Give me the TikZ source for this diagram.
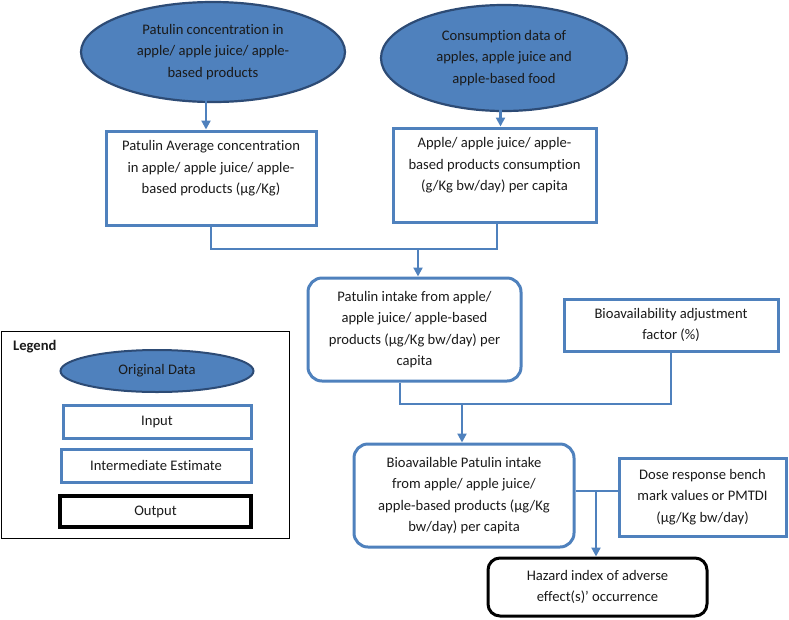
\documentclass[tikz,border=0pt]{standalone}
\usepackage{fontspec}
\setmainfont{Carlito}[Ligatures=NoCommon]
\usetikzlibrary{shapes.geometric,arrows.meta}
\definecolor{blu}{HTML}{4F81BD}
\definecolor{ebord}{HTML}{2D4B75}
\definecolor{txt}{HTML}{1A1A1A}
\begin{document}
\begin{tikzpicture}[x=1pt,y=-1pt,
  font=\fontsize{14.6}{21.5}\selectfont, text=txt,
  orig/.style={ellipse, draw=ebord, line width=2.2pt, fill=blu, inner sep=0pt, align=center},
  inputbox/.style={rectangle, draw=blu, line width=3pt, align=center, inner sep=0pt},
  interbox/.style={rectangle, rounded corners=14pt, draw=blu, line width=3pt, align=center, inner sep=0pt},
  outbox/.style={rectangle, rounded corners=12pt, draw=black, line width=3pt, align=center, inner sep=0pt},
  legbox/.style={rectangle, draw=black, line width=0.8pt, inner sep=0pt},
  conn/.style={draw=blu, line width=2.2pt},
  arr/.style={conn, -{Triangle[length=9pt,width=9pt]}}]
\useasboundingbox (0,0) rectangle (789,619);

% main flow
\node[orig, minimum width=264pt, minimum height=100pt] (e1) at (213,52)
  {Patulin concentration in\\apple/ apple juice/ apple-\\based products};
\node[orig, minimum width=246pt, minimum height=106pt] (e2) at (504,58)
  {Consumption data of\\apples, apple juice and\\apple-based food};
\node[inputbox, minimum width=210pt, minimum height=94pt] (b1) at (211,178)
  {Patulin Average concentration\\in apple/ apple juice/ apple-\\based products (µg/Kg)\\\mbox{}};
\node[inputbox, minimum width=203pt, minimum height=94pt] (b2) at (494.5,175)
  {Apple/ apple juice/ apple-\\based products consumption\\(g/Kg bw/day) per capita\\\mbox{}};
\node[interbox, minimum width=213pt, minimum height=103pt] (b3) at (414.5,329.5)
  {Patulin intake from apple/\\apple juice/ apple-based\\products (µg/Kg bw/day) per\\capita};
\node[inputbox, minimum width=214pt, minimum height=52pt] (b4) at (671,325)
  {Bioavailability adjustment\\factor (\%)};
\node[interbox, minimum width=220pt, minimum height=103pt] (b5) at (464,495.5)
  {Bioavailable Patulin intake\\from apple/ apple juice/\\apple-based products (µg/Kg\\bw/day) per capita};
\node[inputbox, minimum width=167pt, minimum height=78pt] (b6) at (702.5,497)
  {Dose response bench\\mark values or PMTDI\\(µg/Kg bw/day)};
\node[outbox, minimum width=219pt, minimum height=58pt] (b7) at (597.5,587)
  {Hazard index of adverse\\effect(s)’ occurrence};

% connectors
\draw[arr] ([xshift=-7pt,yshift=14pt]e1.south) -- ([xshift=-7pt]e1.south |- b1.north);
\draw[arr] ([xshift=-3.5pt,yshift=17pt]e2.south) -- ([xshift=-3.5pt]e2.south |- b2.north);
\coordinate (j1) at (418,249);
\draw[conn] (b1.south) |- (j1) -| ([xshift=2.5pt]b2.south);
\draw[arr] (j1) -- (j1 |- b3.north);
\coordinate (j2) at (462,404);
\draw[conn] ([xshift=-14.5pt]b3.south) |- (j2) -| (b4.south);
\draw[arr] (j2) -- (j2 |- b5.north);
\coordinate (j3) at (596,491);
\draw[conn] (b5.east |- j3) -- (b6.west |- j3);
\draw[arr] (j3) -- (j3 |- b7.north);

% legend
\node[legbox, minimum width=288pt, minimum height=207pt] (leg) at (145,434.5) {};
\node[anchor=west, inner sep=0pt, font=\fontsize{14.6}{21.5}\selectfont\bfseries] (legt) at (13,347) {Legend};
\node[orig, line width=2pt, minimum width=193pt, minimum height=42pt] (l1) at (157,371) {Original Data};
\node[inputbox, minimum width=188pt, minimum height=33pt] (l2) at (157,422) {Input};
\node[inputbox, minimum width=190pt, minimum height=33pt] (l3) at (156,465.5) {Intermediate Estimate};
\node[inputbox, draw=black, line width=3.5pt, minimum width=191pt, minimum height=31pt] (l4) at (155.5,511.5) {Output};
\end{tikzpicture}
\end{document}
